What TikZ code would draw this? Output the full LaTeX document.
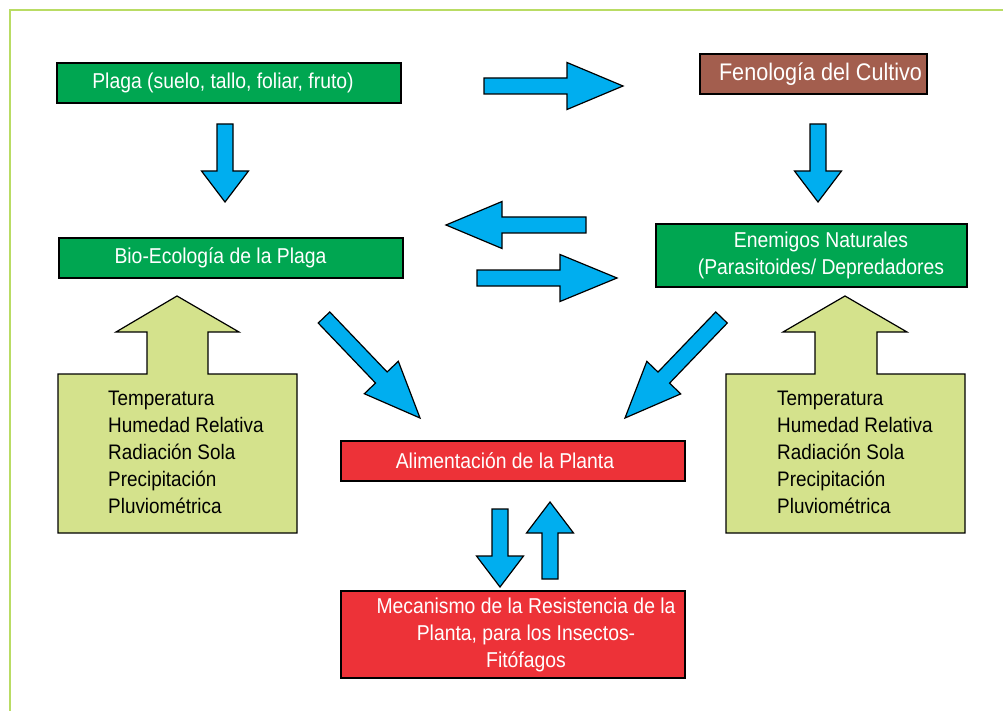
\documentclass[tikz,border=0pt]{standalone}
\usepackage{fontspec}
\setmainfont{Liberation Sans}
\newfontfamily\narrowfont[FakeStretch=0.9]{Liberation Sans}
\usepackage{tikz}
\usetikzlibrary{calc}
\usepackage{xcolor}

\definecolor{boxgreen}{RGB}{0,166,81}
\definecolor{boxbrown}{RGB}{163,94,78}
\definecolor{boxred}{RGB}{237,50,56}
\definecolor{climagreen}{RGB}{212,226,140}
\definecolor{arrowblue}{RGB}{0,174,239}
\definecolor{framegreen}{RGB}{185,220,100}

\tikzset{
	hlen/.store in=\hlen, hlen=31pt,
	box/.style={draw=black, line width=1.2pt, minimum height=40pt, inner sep=0pt},
	wtext/.style={text=white, font=\narrowfont\fontsize{21.5}{27}\selectfont, align=center},
	ktext/.style={text=black, font=\narrowfont\fontsize{21}{27}\selectfont, align=left, inner sep=0pt},
	clima/.style={fill=climagreen, draw=black, line width=1.2pt, line join=miter},
	blockarrow/.style={fill=arrowblue, draw=black, line width=1.2pt, line join=miter,
		to path={($(\tikztostart)!8pt!90:(\tikztotarget)$)
			-- ($(\tikztotarget)!\hlen!(\tikztostart)!8pt!90:(\tikztotarget)$)
			-- ($(\tikztotarget)!\hlen!(\tikztostart)!23.5pt!90:(\tikztotarget)$)
			-- (\tikztotarget)
			-- ($(\tikztotarget)!\hlen!(\tikztostart)!23.5pt!-90:(\tikztotarget)$)
			-- ($(\tikztotarget)!\hlen!(\tikztostart)!8pt!-90:(\tikztotarget)$)
			-- ($(\tikztostart)!8pt!-90:(\tikztotarget)$) -- cycle}}
}

\begin{document}
\begin{tikzpicture}[x=1pt,y=-1pt]
	\useasboundingbox (0,0) rectangle (1003,711);
	\draw[framegreen, line width=2pt] (10,711) -- (10,10) -- (1003,10);
	
	\node[box, fill=boxgreen, minimum width=344pt,
	label={[wtext,xshift=-6pt]center:{Plaga (suelo, tallo, foliar, fruto)}}] (plaga) at (229,83) {};
	\node[box, fill=boxbrown, minimum width=227pt,
	label={[wtext,xshift=7pt,font=\narrowfont\fontsize{24}{28}\selectfont]center:{Fenología del Cultivo}}] (feno) at (813.5,74) {};
	\node[box, fill=boxgreen, minimum width=344pt,
	label={[wtext,xshift=-10.5pt]center:{Bio-Ecología de la Plaga}}] (bio) at (231,258) {};
	\node[box, fill=boxgreen, minimum width=311pt, minimum height=63pt,
	label={[wtext,xshift=9.5pt]center:{Enemigos Naturales\\(Parasitoides/ Depredadores}}] (enem) at (811.5,255.5) {};
	\node[box, fill=boxred, minimum width=344pt,
	label={[wtext,xshift=-8pt]center:{Alimentación de la Planta}}] (alim) at (513,461) {};
	\node[box, fill=boxred, minimum width=344pt, minimum height=87pt,
	label={[wtext,xshift=13pt]center:{Mecanismo de la Resistencia de la\\Planta, para los Insectos-\\Fitófagos}}] (meca) at (513,634.5) {};
	
	\filldraw[clima] (58,374) -- (147,374) -- (147,332) -- (116,332) -- (177,296) -- (239,332)
	-- (208,332) -- (208,374) -- (297,374) -- (297,533) -- (58,533) -- cycle;
	\node[ktext, anchor=west] (climal) at (108,452) {Temperatura\\Humedad Relativa\\Radiación Sola\\Precipitación\\Pluviométrica};
	\filldraw[clima] (726,374) -- (815,374) -- (815,332) -- (783,332) -- (845,296) -- (907,332)
	-- (877,332) -- (877,374) -- (965,374) -- (965,533) -- (726,533) -- cycle;
	\node[ktext, anchor=west] (climar) at (777,452) {Temperatura\\Humedad Relativa\\Radiación Sola\\Precipitación\\Pluviométrica};
	
	\coordinate (plagabio-s) at (225,124);
	\coordinate (plagabio-e) at (225,202);
	\coordinate (plagafeno-s) at (484,86);
	\coordinate (plagafeno-e) at (623,86);
	\coordinate (fenoenem-s) at (818,124);
	\coordinate (fenoenem-e) at (818,202);
	\coordinate (enembio-s) at (586,225);
	\coordinate (enembio-e) at (446,225);
	\coordinate (bioenem-s) at (477,278);
	\coordinate (bioenem-e) at (617,278);
	\coordinate (bioalim-s) at (324,317.5);
	\coordinate (bioalim-e) at (420,418);
	\coordinate (enemalim-s) at (721.5,317.5);
	\coordinate (enemalim-e) at (625,418);
	\coordinate (alimmeca-s) at (500,509);
	\coordinate (alimmeca-e) at (500,587);
	\coordinate (mecaalim-s) at (550,579);
	\coordinate (mecaalim-e) at (550,502);
	
	\draw[blockarrow] (plagabio-s) to (plagabio-e);
	\draw[blockarrow, hlen=56pt] (plagafeno-s) to (plagafeno-e);
	\draw[blockarrow] (fenoenem-s) to (fenoenem-e);
	\draw[blockarrow, hlen=56pt] (enembio-s) to (enembio-e);
	\draw[blockarrow, hlen=57pt] (bioenem-s) to (bioenem-e);
	\draw[blockarrow, hlen=56pt] (bioalim-s) to (bioalim-e);
	\draw[blockarrow, hlen=56pt] (enemalim-s) to (enemalim-e);
	\draw[blockarrow] (alimmeca-s) to (alimmeca-e);
	\draw[blockarrow] (mecaalim-s) to (mecaalim-e);
\end{tikzpicture}
\end{document}
